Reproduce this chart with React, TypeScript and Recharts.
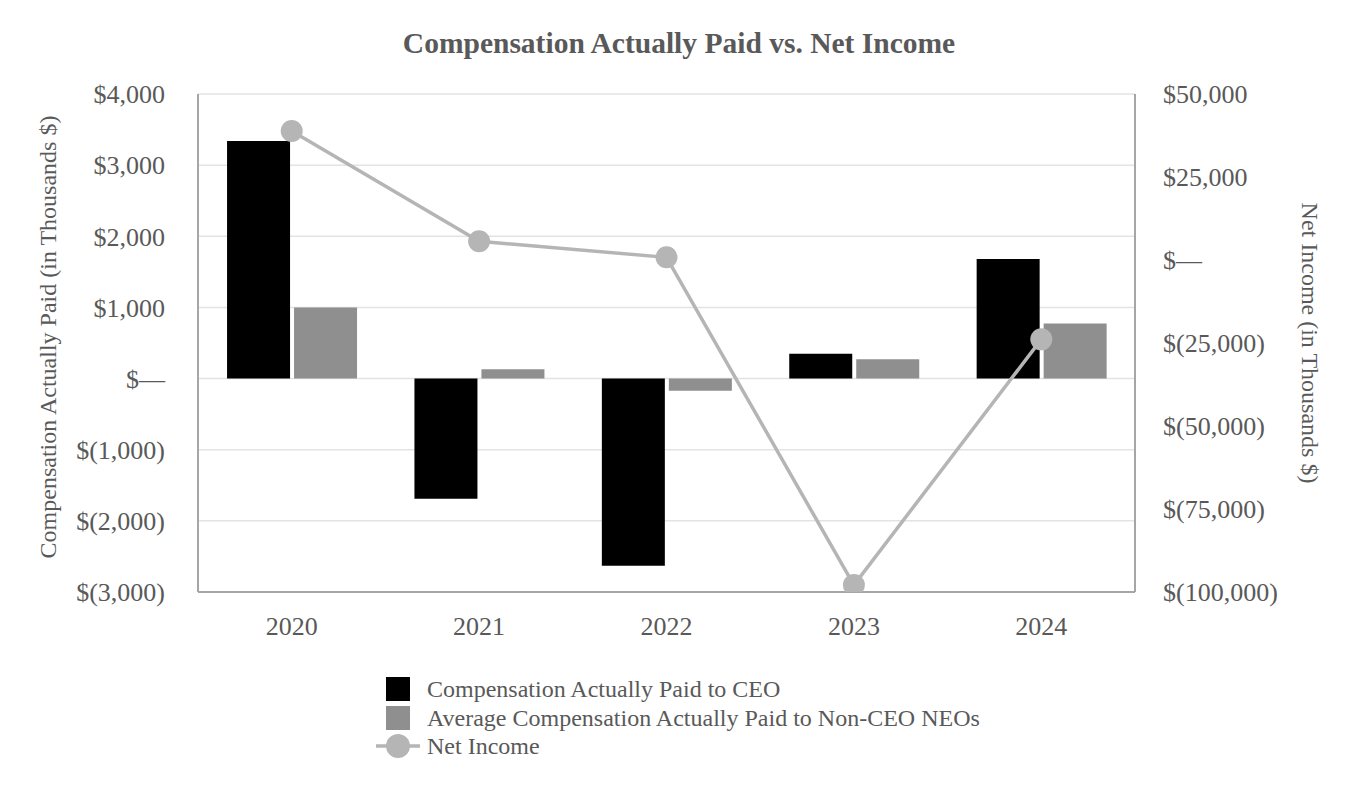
import React from 'react';
import { ComposedChart, Bar, Line, XAxis, YAxis, CartesianGrid, Legend } from 'recharts';

const years = ['2020', '2021', '2022', '2023', '2024'];
const ceoPaid = [3340, -1690, -2630, 350, 1680];
const neoPaid = [1000, 130, -170, 270, 775];
const netIncome = [38850, 5650, 800, -97900, -23900];
const leftTicks = [-3000, -2000, -1000, 0, 1000, 2000, 3000, 4000];
const rightTicks = [-100000, -75000, -50000, -25000, 0, 25000, 50000];

const data = years.map((y, i) => ({ year: y, ceo: ceoPaid[i], neo: neoPaid[i], ni: netIncome[i] }));

const TEXT = '#595959';
const FONT = '"Liberation Serif", "Times New Roman", serif';
const CEO_C = '#000000';
const NEO_C = '#8f8f8f';
const LINE_C = '#b5b5b5';
const AXIS_C = '#a6a6a6';
const GRID_C = '#e3e3e3';

const money = (v: number) => {
  if (v === 0) return '$\u2014';
  const s = Math.abs(v).toLocaleString('en-US');
  return v < 0 ? `$(${s})` : `$${s}`;
};

const LeftLabel = (props: any) => {
  const vb = props.viewBox || {};
  const cx = 48;
  const cy = (vb.y || 0) + (vb.height || 0) / 2 - 6;
  return (
    <text x={cx} y={cy} transform={`rotate(-90, ${cx}, ${cy})`} textAnchor="middle" dominantBaseline="central"
      fill={TEXT} fontSize={24} fontFamily={FONT}>
      Compensation Actually Paid (in Thousands $)
    </text>
  );
};

const RightLabel = (props: any) => {
  const vb = props.viewBox || {};
  const cx = 1310;
  const cy = (vb.y || 0) + (vb.height || 0) / 2;
  return (
    <text x={cx} y={cy} transform={`rotate(90, ${cx}, ${cy})`} textAnchor="middle" dominantBaseline="central"
      fill={TEXT} fontSize={24} fontFamily={FONT}>
      Net Income (in Thousands $)
    </text>
  );
};

const legendItems = [
  { name: 'Compensation Actually Paid to CEO', type: 'square', color: CEO_C },
  { name: 'Average Compensation Actually Paid to Non-CEO NEOs', type: 'square', color: NEO_C },
  { name: 'Net Income', type: 'line', color: LINE_C },
];

const CustomLegend = () => (
  <div style={{ fontFamily: FONT, color: TEXT, fontSize: 24 }}>
    {legendItems.map((it) => (
      <div key={it.name} style={{ display: 'flex', alignItems: 'center', height: 28.5 }}>
        <svg width={52} height={28} style={{ display: 'block' }}>
          {it.type === 'square' ? (
            <rect x={14} y={2} width={24} height={24} fill={it.color} />
          ) : (
            <g>
              <line x1={4} y1={14} x2={48} y2={14} stroke={it.color} strokeWidth={3.5} />
              <circle cx={26} cy={14} r={12} fill={it.color} />
            </g>
          )}
        </svg>
        <span style={{ marginLeft: 3, lineHeight: '28px', whiteSpace: 'nowrap' }}>{it.name}</span>
      </div>
    ))}
  </div>
);

export default function App() {
  return (
    <div style={{ position: 'absolute', left: 0, top: 0, width: 1358, height: 800, background: '#fff' }}>
      <div style={{ position: 'absolute', left: 0, top: 26, width: 1358, textAlign: 'center', fontFamily: FONT,
        fontWeight: 'bold', fontSize: 29.5, color: TEXT, lineHeight: '34px' }}>
        Compensation Actually Paid vs. Net Income
      </div>
      <ComposedChart width={1358} height={800} data={data}
        margin={{ top: 94, right: 0, bottom: 148, left: 0 }}
        barGap={4} barCategoryGap="15.5%">
        <CartesianGrid yAxisId="left" vertical={false} horizontal stroke={GRID_C} strokeWidth={1.5} />
        <XAxis dataKey="year" axisLine={{ stroke: AXIS_C, strokeWidth: 2 }} tickLine={false} tickSize={0}
          tickMargin={25} height={60} tick={{ fill: TEXT, fontSize: 26, fontFamily: FONT }} />
        <YAxis yAxisId="left" orientation="left" width={198} domain={[-3000, 4000]} ticks={leftTicks}
          allowDataOverflow tickFormatter={money} axisLine={{ stroke: AXIS_C, strokeWidth: 2 }} tickLine={false}
          tickSize={0} tickMargin={33} tick={{ fill: TEXT, fontSize: 26, fontFamily: FONT }}
          label={<LeftLabel />} />
        <YAxis yAxisId="right" orientation="right" width={223} domain={[-100000, 50000]} ticks={rightTicks}
          allowDataOverflow tickFormatter={money} axisLine={{ stroke: AXIS_C, strokeWidth: 2 }} tickLine={false}
          tickSize={0} tickMargin={28} tick={{ fill: TEXT, fontSize: 26, fontFamily: FONT }}
          label={<RightLabel />} />
        <Bar yAxisId="left" dataKey="ceo" name="Compensation Actually Paid to CEO" fill={CEO_C} isAnimationActive={false} />
        <Bar yAxisId="left" dataKey="neo" name="Average Compensation Actually Paid to Non-CEO NEOs" fill={NEO_C} isAnimationActive={false} />
        <Line yAxisId="right" dataKey="ni" name="Net Income" stroke={LINE_C} strokeWidth={3.5}
          dot={{ r: 11, fill: LINE_C, stroke: 'none' }} activeDot={false} isAnimationActive={false} />
        <Legend layout="vertical" align="center" verticalAlign="middle" content={<CustomLegend />}
          wrapperStyle={{ position: 'absolute', left: 372, top: 675, width: 800, height: 90 }} />
      </ComposedChart>
    </div>
  );
}
